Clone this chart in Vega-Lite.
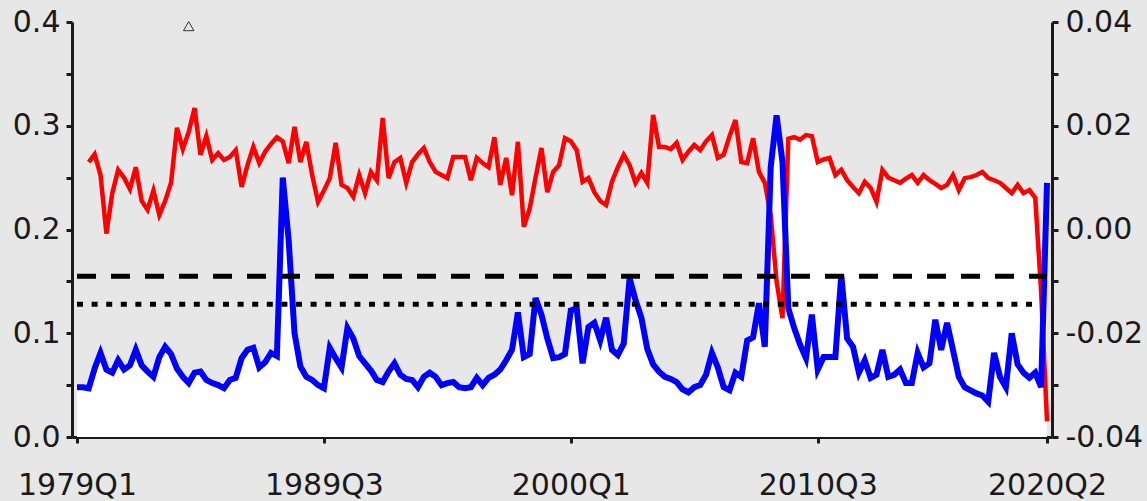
{
  "$schema": "https://vega.github.io/schema/vega-lite/v6.json",
  "width": 980,
  "height": 415,
  "autosize": {"type": "none"},
  "padding": {"left": 72, "top": 22, "right": 95, "bottom": 64},
  "background": "#e7e7e7",
  "datasets": {
    "series": [
      {"q":"1979Q1","b":0.048,"r":null},{"q":"1979Q2","b":0.048,"r":null},{"q":"1979Q3","b":0.047,"r":0.013},{"q":"1979Q4","b":0.066,"r":0.0145},
      {"q":"1980Q1","b":0.081,"r":0.0105},{"q":"1980Q2","b":0.065,"r":-0.0008},{"q":"1980Q3","b":0.062,"r":0.007},{"q":"1980Q4","b":0.074,"r":0.0115},
      {"q":"1981Q1","b":0.065,"r":0.010},{"q":"1981Q2","b":0.069,"r":0.0078},{"q":"1981Q3","b":0.084,"r":0.012},{"q":"1981Q4","b":0.069,"r":0.0055},
      {"q":"1982Q1","b":0.063,"r":0.0038},{"q":"1982Q2","b":0.058,"r":0.0075},{"q":"1982Q3","b":0.077,"r":0.0028},{"q":"1982Q4","b":0.087,"r":0.0055},
      {"q":"1983Q1","b":0.080,"r":0.009},{"q":"1983Q2","b":0.066,"r":0.0196},{"q":"1983Q3","b":0.058,"r":0.0155},{"q":"1983Q4","b":0.052,"r":0.0188},
      {"q":"1984Q1","b":0.062,"r":0.0234},{"q":"1984Q2","b":0.063,"r":0.0144},{"q":"1984Q3","b":0.055,"r":0.018},{"q":"1984Q4","b":0.052,"r":0.0134},
      {"q":"1985Q1","b":0.050,"r":0.0147},{"q":"1985Q2","b":0.047,"r":0.0134},{"q":"1985Q3","b":0.055,"r":0.014},{"q":"1985Q4","b":0.057,"r":0.0153},
      {"q":"1986Q1","b":0.076,"r":0.0082},{"q":"1986Q2","b":0.084,"r":0.0124},{"q":"1986Q3","b":0.086,"r":0.0159},{"q":"1986Q4","b":0.067,"r":0.0128},
      {"q":"1987Q1","b":0.072,"r":0.015},{"q":"1987Q2","b":0.081,"r":0.0165},{"q":"1987Q3","b":0.078,"r":0.0178},{"q":"1987Q4","b":0.25,"r":0.017},
      {"q":"1988Q1","b":0.19,"r":0.0128},{"q":"1988Q2","b":0.10,"r":0.0198},{"q":"1988Q3","b":0.068,"r":0.013},{"q":"1988Q4","b":0.058,"r":0.0169},
      {"q":"1989Q1","b":0.055,"r":0.0105},{"q":"1989Q2","b":0.050,"r":0.0053},{"q":"1989Q3","b":0.047,"r":0.0075},{"q":"1989Q4","b":0.086,"r":0.0099},
      {"q":"1990Q1","b":0.076,"r":0.0167},{"q":"1990Q2","b":0.067,"r":0.0086},{"q":"1990Q3","b":0.105,"r":0.008},{"q":"1990Q4","b":0.095,"r":0.0063},
      {"q":"1991Q1","b":0.078,"r":0.0105},{"q":"1991Q2","b":0.071,"r":0.007},{"q":"1991Q3","b":0.064,"r":0.0111},{"q":"1991Q4","b":0.055,"r":0.0095},
      {"q":"1992Q1","b":0.053,"r":0.0215},{"q":"1992Q2","b":0.063,"r":0.0099},{"q":"1992Q3","b":0.071,"r":0.013},{"q":"1992Q4","b":0.060,"r":0.0138},
      {"q":"1993Q1","b":0.056,"r":0.009},{"q":"1993Q2","b":0.055,"r":0.013},{"q":"1993Q3","b":0.048,"r":0.0145},{"q":"1993Q4","b":0.058,"r":0.0157},
      {"q":"1994Q1","b":0.062,"r":0.013},{"q":"1994Q2","b":0.058,"r":0.0111},{"q":"1994Q3","b":0.050,"r":0.0105},{"q":"1994Q4","b":0.052,"r":0.0099},
      {"q":"1995Q1","b":0.053,"r":0.014},{"q":"1995Q2","b":0.048,"r":0.014},{"q":"1995Q3","b":0.047,"r":0.014},{"q":"1995Q4","b":0.048,"r":0.0095},
      {"q":"1996Q1","b":0.057,"r":0.0138},{"q":"1996Q2","b":0.050,"r":0.0128},{"q":"1996Q3","b":0.057,"r":0.012},{"q":"1996Q4","b":0.060,"r":0.0178},
      {"q":"1997Q1","b":0.065,"r":0.0086},{"q":"1997Q2","b":0.074,"r":0.0138},{"q":"1997Q3","b":0.084,"r":0.0066},{"q":"1997Q4","b":0.120,"r":0.0169},
      {"q":"1998Q1","b":0.077,"r":0.0005},{"q":"1998Q2","b":0.080,"r":0.004},{"q":"1998Q3","b":0.134,"r":0.010},{"q":"1998Q4","b":0.118,"r":0.0157},
      {"q":"1999Q1","b":0.095,"r":0.0072},{"q":"1999Q2","b":0.076,"r":0.0111},{"q":"1999Q3","b":0.077,"r":0.0124},{"q":"1999Q4","b":0.080,"r":0.0176},
      {"q":"2000Q1","b":0.122,"r":0.017},{"q":"2000Q2","b":0.124,"r":0.0153},{"q":"2000Q3","b":0.071,"r":0.0092},{"q":"2000Q4","b":0.106,"r":0.0099},
      {"q":"2001Q1","b":0.110,"r":0.0072},{"q":"2001Q2","b":0.093,"r":0.0055},{"q":"2001Q3","b":0.115,"r":0.0047},{"q":"2001Q4","b":0.084,"r":0.0092},
      {"q":"2002Q1","b":0.079,"r":0.012},{"q":"2002Q2","b":0.090,"r":0.0144},{"q":"2002Q3","b":0.153,"r":0.0124},{"q":"2002Q4","b":0.132,"r":0.009},
      {"q":"2003Q1","b":0.115,"r":0.0109},{"q":"2003Q2","b":0.085,"r":0.009},{"q":"2003Q3","b":0.070,"r":0.0221},{"q":"2003Q4","b":0.063,"r":0.0159},
      {"q":"2004Q1","b":0.058,"r":0.0159},{"q":"2004Q2","b":0.056,"r":0.0155},{"q":"2004Q3","b":0.053,"r":0.0167},{"q":"2004Q4","b":0.046,"r":0.0134},
      {"q":"2005Q1","b":0.043,"r":0.015},{"q":"2005Q2","b":0.048,"r":0.0163},{"q":"2005Q3","b":0.050,"r":0.0153},{"q":"2005Q4","b":0.060,"r":0.017},
      {"q":"2006Q1","b":0.081,"r":0.0182},{"q":"2006Q2","b":0.067,"r":0.0138},{"q":"2006Q3","b":0.048,"r":0.0144},{"q":"2006Q4","b":0.045,"r":0.018},
      {"q":"2007Q1","b":0.062,"r":0.0211},{"q":"2007Q2","b":0.058,"r":0.013},{"q":"2007Q3","b":0.093,"r":0.0128},{"q":"2007Q4","b":0.096,"r":0.0176},
      {"q":"2008Q1","b":0.129,"r":0.0111},{"q":"2008Q2","b":0.087,"r":0.009},{"q":"2008Q3","b":0.26,"r":0.0028},{"q":"2008Q4","b":0.31,"r":-0.010},
      {"q":"2009Q1","b":0.265,"r":-0.0171},{"q":"2009Q2","b":0.124,"r":0.0175},{"q":"2009Q3","b":0.105,"r":0.0178},{"q":"2009Q4","b":0.089,"r":0.0173},
      {"q":"2010Q1","b":0.076,"r":0.0182},{"q":"2010Q2","b":0.118,"r":0.018},{"q":"2010Q3","b":0.065,"r":0.013},{"q":"2010Q4","b":0.077,"r":0.0135},
      {"q":"2011Q1","b":0.077,"r":0.0138},{"q":"2011Q2","b":0.077,"r":0.0105},{"q":"2011Q3","b":0.156,"r":0.0115},{"q":"2011Q4","b":0.095,"r":0.0095},
      {"q":"2012Q1","b":0.087,"r":0.0082},{"q":"2012Q2","b":0.062,"r":0.007},{"q":"2012Q3","b":0.074,"r":0.0092},{"q":"2012Q4","b":0.057,"r":0.008},
      {"q":"2013Q1","b":0.060,"r":0.0053},{"q":"2013Q2","b":0.084,"r":0.0115},{"q":"2013Q3","b":0.058,"r":0.010},{"q":"2013Q4","b":0.060,"r":0.0095},
      {"q":"2014Q1","b":0.065,"r":0.009},{"q":"2014Q2","b":0.052,"r":0.0098},{"q":"2014Q3","b":0.052,"r":0.0105},{"q":"2014Q4","b":0.081,"r":0.009},
      {"q":"2015Q1","b":0.067,"r":0.0105},{"q":"2015Q2","b":0.071,"r":0.0095},{"q":"2015Q3","b":0.113,"r":0.0088},{"q":"2015Q4","b":0.084,"r":0.008},
      {"q":"2016Q1","b":0.110,"r":0.0086},{"q":"2016Q2","b":0.084,"r":0.0105},{"q":"2016Q3","b":0.058,"r":0.0076},{"q":"2016Q4","b":0.048,"r":0.0099},
      {"q":"2017Q1","b":0.045,"r":0.0101},{"q":"2017Q2","b":0.042,"r":0.0105},{"q":"2017Q3","b":0.040,"r":0.0111},{"q":"2017Q4","b":0.034,"r":0.0099},
      {"q":"2018Q1","b":0.081,"r":0.0095},{"q":"2018Q2","b":0.058,"r":0.009},{"q":"2018Q3","b":0.048,"r":0.008},{"q":"2018Q4","b":0.100,"r":0.007},
      {"q":"2019Q1","b":0.070,"r":0.0086},{"q":"2019Q2","b":0.062,"r":0.007},{"q":"2019Q3","b":0.057,"r":0.0076},{"q":"2019Q4","b":0.062,"r":0.0061},
      {"q":"2020Q1","b":0.048,"r":-0.012},{"q":"2020Q2","b":0.245,"r":-0.037}
    ],
    "thresholds": [
      {"v": 0.155, "kind": "dashed"},
      {"v": 0.128, "kind": "dotted"}
    ],
    "marker": [
      {"q": "1983Q4", "v": 0.396}
    ]
  },
  "data": {"name": "series"},
  "layer": [
    {
      "mark": {"type": "area", "color": "#ffffff", "opacity": 1},
      "encoding": {
        "x": {"field": "q", "type": "ordinal", "scale": {"type": "point", "padding": 0.85},
              "axis": {"values": ["1979Q1", "1989Q3", "2000Q1", "2010Q3", "2020Q2"], "labelAngle": 0, "labelPadding": 27, "labelFlush": false}},
        "y": {"field": "b", "type": "quantitative", "scale": {"domain": [0, 0.4], "nice": false, "zero": false},
              "axis": {"orient": "left", "values": [0, 0.05, 0.1, 0.15, 0.2, 0.25, 0.3, 0.35, 0.4],
                       "labelExpr": "round(datum.value*20) % 2 == 0 ? format(datum.value, '.1f') : ''",
                       "labelPadding": 6, "labelFlush": false}},
        "y2": {"datum": 0}
      }
    },
    {
      "transform": [{"filter": "datum.q >= '2009Q2'"}],
      "mark": {"type": "area", "color": "#ffffff", "opacity": 1},
      "encoding": {
        "x": {"field": "q", "type": "ordinal"},
        "y": {"field": "r", "type": "quantitative", "scale": {"domain": [-0.04, 0.04], "nice": false, "zero": false},
              "axis": {"orient": "right", "values": [-0.04, -0.03, -0.02, -0.01, 0, 0.01, 0.02, 0.03, 0.04],
                       "labelExpr": "round(datum.value*100) % 2 == 0 ? replace(format(datum.value, '.2f'), '\u2212', '-') : ''",
                       "labelPadding": 7, "labelFlush": false}},
        "y2": {"datum": -0.04}
      }
    },
    {
      "mark": {"type": "line", "color": "#ff0000", "strokeWidth": 4.5, "strokeJoin": "miter"},
      "encoding": {
        "x": {"field": "q", "type": "ordinal"},
        "y": {"field": "r", "type": "quantitative", "scale": {"domain": [-0.04, 0.04], "nice": false, "zero": false}, "axis": null}
      }
    },
    {
      "mark": {"type": "line", "color": "#0000ff", "strokeWidth": 6, "strokeJoin": "miter"},
      "encoding": {
        "x": {"field": "q", "type": "ordinal"},
        "y": {"field": "b", "type": "quantitative", "scale": {"domain": [0, 0.4], "nice": false, "zero": false}, "axis": null}
      }
    },
    {
      "data": {"name": "thresholds"},
      "transform": [{"filter": "datum.kind == 'dashed'"}],
      "mark": {"type": "rule", "color": "#000000", "strokeWidth": 5, "strokeDash": [19, 15]},
      "encoding": {
        "x": {"datum": "1979Q1", "type": "ordinal"},
        "x2": {"datum": "2020Q2"},
        "y": {"field": "v", "type": "quantitative", "scale": {"domain": [0, 0.4], "nice": false, "zero": false}, "axis": null}
      }
    },
    {
      "data": {"name": "thresholds"},
      "transform": [{"filter": "datum.kind == 'dotted'"}],
      "mark": {"type": "rule", "color": "#000000", "strokeWidth": 5, "strokeDash": [6, 8.6]},
      "encoding": {
        "x": {"datum": "1979Q1", "type": "ordinal"},
        "x2": {"datum": "2019Q4"},
        "y": {"field": "v", "type": "quantitative", "scale": {"domain": [0, 0.4], "nice": false, "zero": false}, "axis": null}
      }
    },
    {
      "data": {"name": "marker"},
      "mark": {"type": "point", "shape": "triangle-up", "filled": false, "color": "#333333", "strokeWidth": 1, "size": 110, "opacity": 1},
      "encoding": {
        "x": {"field": "q", "type": "ordinal"},
        "y": {"field": "v", "type": "quantitative", "scale": {"domain": [0, 0.4], "nice": false, "zero": false}, "axis": null}
      }
    }
  ],
  "resolve": {"scale": {"y": "independent"}, "axis": {"y": "independent"}},
  "config": {
    "view": {"stroke": null},
    "axis": {
      "title": null,
      "grid": false,
      "domainColor": "#1a1a1a",
      "domainWidth": 3,
      "tickColor": "#1a1a1a",
      "tickWidth": 3,
      "tickSize": 6,
      "labelFont": "DejaVu Sans",
      "labelFontSize": 30,
      "labelColor": "#1a1a1a"
    }
  }
}
